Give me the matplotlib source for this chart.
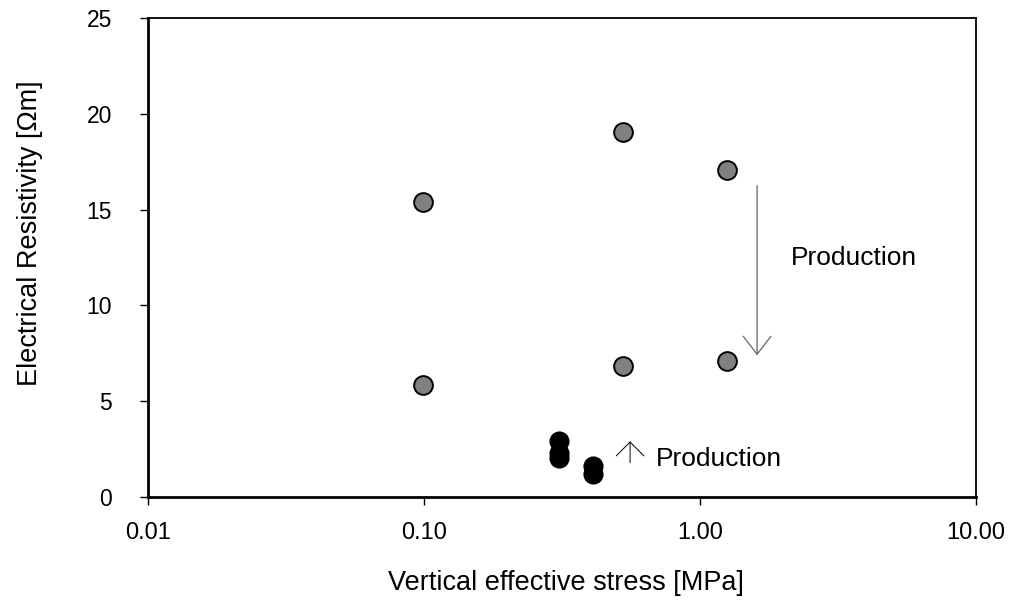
import matplotlib.pyplot as plt
from matplotlib.ticker import FixedLocator, NullLocator

plt.rcParams['font.family'] = ['Liberation Sans', 'DejaVu Sans']

# gray points (before production / after)
gray_x = [0.099, 0.099, 0.526, 0.526, 1.25, 1.25]
gray_y = [15.4, 5.85, 19.05, 6.84, 17.07, 7.1]

# black points
black_x = [0.308, 0.308, 0.308, 0.41, 0.41]
black_y = [2.9, 2.3, 2.05, 1.6, 1.2]

xticks = [0.01, 0.1, 1, 10]
xtick_labels = ["0.01", "0.10", "1.00", "10.00"]

fig = plt.figure(figsize=(10.14, 6.01), dpi=100)
ax = fig.add_axes([148 / 1014, 1 - 497 / 601, (976 - 148) / 1014, (497 - 18) / 601])

ax.plot(gray_x, gray_y, 'o', color='#808080', markeredgecolor='black',
        markeredgewidth=1.4, markersize=13.5, linestyle='none')
ax.plot(black_x, black_y, 'o', color='black', markeredgecolor='black',
        markersize=13.5, linestyle='none')

# production arrows
ax.annotate("", xy=(1.61, 7.25), xytext=(1.61, 16.4),
            arrowprops=dict(arrowstyle="->,head_length=1.3,head_width=1.0",
                            color='#666666', linewidth=0.9))
ax.text(2.13, 12.45, "Production", fontsize=19, va='center', ha='left')

ax.annotate("", xy=(0.558, 3.05), xytext=(0.558, 1.65),
            arrowprops=dict(arrowstyle="->,head_length=1.0,head_width=1.0",
                            color='black', linewidth=0.7))
ax.text(0.69, 2.0, "Production", fontsize=19, va='center', ha='left')

ax.set_xscale('log')
ax.set_xlim(0.01, 10)
ax.set_ylim(0, 25)
ax.xaxis.set_major_locator(FixedLocator(xticks))
ax.xaxis.set_minor_locator(NullLocator())
ax.set_xticklabels(xtick_labels)
ax.set_yticks([0, 5, 10, 15, 20, 25])

ax.spines['left'].set_linewidth(2.0)
ax.spines['bottom'].set_linewidth(2.0)
ax.spines['top'].set_linewidth(1.3)
ax.spines['right'].set_linewidth(1.3)
ax.tick_params(axis='x', direction='out', length=6, width=1, labelsize=17, pad=12)
ax.tick_params(axis='y', direction='out', length=6, width=1, labelsize=16.5, pad=20)

ax.set_xlabel("Vertical effective stress [MPa]", fontsize=19.5, va='center')
ax.xaxis.set_label_coords(0.505, -0.18)
ax.set_ylabel("Electrical Resistivity [\u03a9m]", fontsize=19.5, va='center')
ax.yaxis.set_label_coords(-0.143, 0.55)

fig.savefig("out.png", dpi=100)
